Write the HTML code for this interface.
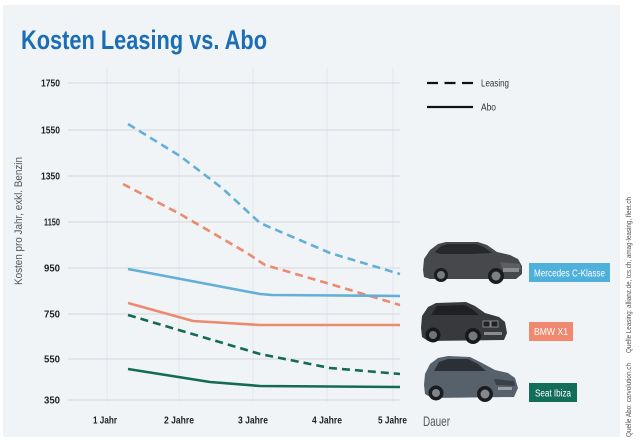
<!DOCTYPE html>
<html>
<head>
<meta charset="utf-8">
<style>
html,body{margin:0;padding:0;background:#ffffff;}
svg{display:block;}
text{font-family:"Liberation Sans",sans-serif;}
</style>
</head>
<body>
<svg width="640" height="443" viewBox="0 0 640 443" xmlns="http://www.w3.org/2000/svg">
  <rect x="0" y="0" width="640" height="443" fill="#ffffff"/>
  <rect x="3" y="5" width="617" height="432" fill="#f1f4f7"/>

  <!-- Title -->
  <text x="21" y="49" font-size="27" font-weight="bold" fill="#1b6db5" textLength="246" lengthAdjust="spacingAndGlyphs">Kosten Leasing vs. Abo</text>

  <!-- vertical gridlines -->
  <g stroke="#e1e5e9" stroke-width="1">
    <line x1="107" y1="68" x2="107" y2="402"/>
    <line x1="179" y1="68" x2="179" y2="402"/>
    <line x1="253" y1="68" x2="253" y2="402"/>
    <line x1="327" y1="68" x2="327" y2="402"/>
    <line x1="393" y1="68" x2="393" y2="402"/>
  </g>
  <!-- horizontal gridlines -->
  <g stroke="#d4d9de" stroke-width="1">
    <line x1="68" y1="83" x2="400" y2="83"/>
    <line x1="68" y1="130" x2="400" y2="130"/>
    <line x1="68" y1="176" x2="400" y2="176"/>
    <line x1="68" y1="222" x2="400" y2="222"/>
    <line x1="68" y1="268" x2="400" y2="268"/>
    <line x1="68" y1="314" x2="400" y2="314"/>
    <line x1="68" y1="359" x2="400" y2="359"/>
    <line x1="68" y1="400" x2="400" y2="400"/>
  </g>

  <!-- y tick labels -->
  <g font-size="10" font-weight="bold" fill="#222" text-anchor="end">
    <text x="60" y="86.5" textLength="19" lengthAdjust="spacingAndGlyphs">1750</text>
    <text x="60" y="133.5" textLength="19" lengthAdjust="spacingAndGlyphs">1550</text>
    <text x="60" y="179.5" textLength="19" lengthAdjust="spacingAndGlyphs">1350</text>
    <text x="60" y="225.5" textLength="16" lengthAdjust="spacingAndGlyphs">1150</text>
    <text x="60" y="271.5" textLength="16" lengthAdjust="spacingAndGlyphs">950</text>
    <text x="60" y="317.5" textLength="16" lengthAdjust="spacingAndGlyphs">750</text>
    <text x="60" y="362.5" textLength="16" lengthAdjust="spacingAndGlyphs">550</text>
    <text x="60" y="403.5" textLength="16" lengthAdjust="spacingAndGlyphs">350</text>
  </g>

  <!-- y axis title -->
  <text transform="translate(22,221) rotate(-90)" text-anchor="middle" font-size="11" fill="#555" textLength="128" lengthAdjust="spacingAndGlyphs">Kosten pro Jahr, exkl. Benzin</text>

  <!-- x tick labels -->
  <g font-size="10" font-weight="bold" fill="#222" text-anchor="middle">
    <text x="105" y="423.5" textLength="24" lengthAdjust="spacingAndGlyphs">1 Jahr</text>
    <text x="179" y="423.5" textLength="30" lengthAdjust="spacingAndGlyphs">2 Jahre</text>
    <text x="253" y="423.5" textLength="30" lengthAdjust="spacingAndGlyphs">3 Jahre</text>
    <text x="327" y="423.5" textLength="30" lengthAdjust="spacingAndGlyphs">4 Jahre</text>
    <text x="392.5" y="423.5" textLength="29" lengthAdjust="spacingAndGlyphs">5 Jahre</text>
  </g>
  <text x="423" y="426" font-size="14" fill="#555" textLength="27" lengthAdjust="spacingAndGlyphs">Dauer</text>

  <!-- Data series -->
  <g fill="none" stroke-linejoin="round">
    <!-- Mercedes leasing (blue dashed) -->
    <polyline points="128,124 180,156 222,188 260,223 330,253 400,274" stroke="#63afd7" stroke-width="2.6" stroke-dasharray="8 5"/>
    <!-- BMW leasing (salmon dashed) -->
    <polyline points="123,184 180,214 247,253 265,265 330,284 400,305" stroke="#ec8a6f" stroke-width="2.6" stroke-dasharray="8 5"/>
    <!-- Mercedes abo -->
    <polyline points="128,269 260,294 272,295 400,296" stroke="#63afd7" stroke-width="2.6"/>
    <!-- BMW abo -->
    <polyline points="128,303 193,321 260,325 400,325" stroke="#ec8a6f" stroke-width="2.6"/>
    <!-- Seat leasing -->
    <polyline points="128,315 260,354 330,368 400,374" stroke="#136b53" stroke-width="2.6" stroke-dasharray="8 5"/>
    <!-- Seat abo -->
    <polyline points="128,369 210,382 260,386 400,387" stroke="#136b53" stroke-width="2.6"/>
  </g>

  <!-- Legend -->
  <line x1="427" y1="83" x2="473" y2="83" stroke="#111" stroke-width="2.2" stroke-dasharray="11 6.5"/>
  <text x="481" y="86.5" font-size="10" fill="#333" textLength="28" lengthAdjust="spacingAndGlyphs">Leasing</text>
  <line x1="427" y1="107" x2="473" y2="107" stroke="#111" stroke-width="2.2"/>
  <text x="481" y="110.5" font-size="10" fill="#333" textLength="15" lengthAdjust="spacingAndGlyphs">Abo</text>

  <!-- Car 1: Mercedes estate -->
  <g>
    <path d="M423,270 L424,259 L430,250 L438,244 L446,242 L478,242 L487,245 L497,252 L510,255 L518,259 L522,266 L522,274 L516,279 L430,279 L424,277 Z" fill="#46484c"/>
    <path d="M435,252 L441,246 L448,244 L476,244 L484,247 L492,253 L470,254 L440,254 Z" fill="#26282b"/>
    <path d="M500,262 L520,264 L521,270 L502,268 Z" fill="#5c5e62"/>
    <rect x="503" y="268" width="16" height="4" fill="#8a8c90"/>
    <circle cx="441" cy="275" r="7" fill="#1b1c1e"/>
    <circle cx="441" cy="275" r="4" fill="#777a7e"/>
    <circle cx="496" cy="276" r="8" fill="#1b1c1e"/>
    <circle cx="496" cy="276" r="4.5" fill="#7c7f83"/>
  </g>

  <!-- Car 2: BMW X1 -->
  <g>
    <path d="M421,328 L422,316 L428,307 L436,303 L466,302 L475,306 L485,313 L499,317 L505,322 L507,333 L504,340 L428,341 L422,337 Z" fill="#37393d"/>
    <path d="M431,315 L437,306 L464,305 L472,309 L479,315 Z" fill="#1f2023"/>
    <rect x="483" y="321" width="7" height="6" fill="#202124" stroke="#9a9ca0" stroke-width="0.8"/>
    <rect x="491" y="321" width="7" height="6" fill="#202124" stroke="#9a9ca0" stroke-width="0.8"/>
    <rect x="484" y="332" width="18" height="3" fill="#8a8c90"/>
    <circle cx="433" cy="335" r="7.5" fill="#17181a"/>
    <circle cx="433" cy="335" r="4" fill="#707377"/>
    <circle cx="473" cy="336" r="8" fill="#17181a"/>
    <circle cx="473" cy="336" r="4.5" fill="#74777b"/>
  </g>

  <!-- Car 3: Seat Ibiza -->
  <g>
    <path d="M424,385 L425,374 L430,364 L438,358 L448,356 L470,357 L482,363 L495,370 L508,373 L515,378 L518,388 L514,397 L432,398 L425,394 Z" fill="#56616b"/>
    <path d="M434,371 L439,362 L448,359 L468,359 L478,364 L486,371 Z" fill="#2b3036"/>
    <path d="M494,379 L514,381 L515,386 L496,385 Z" fill="#3a4047"/>
    <rect x="498" y="387" width="14" height="3" fill="#9a9fa4"/>
    <circle cx="436" cy="393" r="7.5" fill="#1a1c1f"/>
    <circle cx="436" cy="393" r="4" fill="#808489"/>
    <circle cx="485" cy="394" r="8" fill="#1a1c1f"/>
    <circle cx="485" cy="394" r="4.5" fill="#84888d"/>
  </g>

  <!-- Car label boxes -->
  <rect x="529" y="263" width="81" height="19" fill="#4fb0dc"/>
  <text x="569.5" y="276.5" font-size="10" fill="#ffffff" text-anchor="middle" textLength="71" lengthAdjust="spacingAndGlyphs">Mercedes C-Klasse</text>
  <rect x="529" y="322" width="44" height="19" fill="#f0896f"/>
  <text x="551" y="335" font-size="10" fill="#ffffff" text-anchor="middle" textLength="34" lengthAdjust="spacingAndGlyphs">BMW X1</text>
  <rect x="529" y="383" width="48" height="19" fill="#136e58"/>
  <text x="553" y="396.5" font-size="10" fill="#ffffff" text-anchor="middle" textLength="36" lengthAdjust="spacingAndGlyphs">Seat Ibiza</text>

  <!-- Source -->
  <g font-size="7.5" fill="#555">
    <text transform="translate(631,437) rotate(-90)" textLength="74" lengthAdjust="spacingAndGlyphs">Quelle Abo: carvolution.ch</text>
    <text transform="translate(631,353) rotate(-90)" textLength="156" lengthAdjust="spacingAndGlyphs">Quelle Leasing: allianz.de, tcs.ch, amag-leasing, fleet.ch</text>
  </g>
</svg>
</body>
</html>
